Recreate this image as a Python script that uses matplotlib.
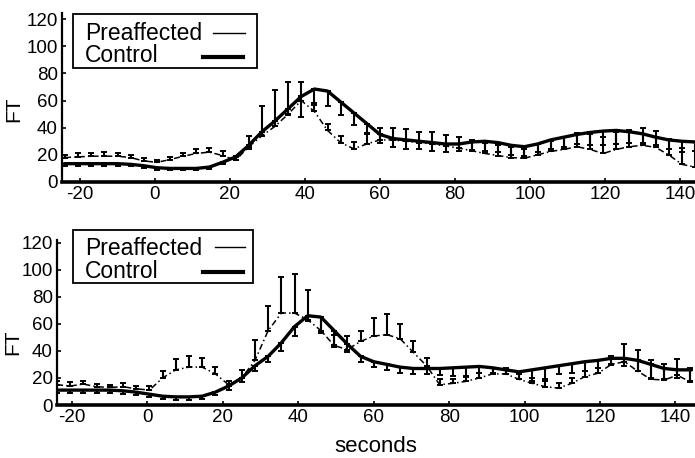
import matplotlib
matplotlib.use("Agg")
import matplotlib.pyplot as plt
from matplotlib.lines import Line2D
from matplotlib.patches import Rectangle
import numpy as np

plt.rcParams['font.family'] = ['Liberation Sans', 'DejaVu Sans']
plt.rcParams['axes.unicode_minus'] = False

# time points (seconds)
seconds = [-24, -20.5, -17, -13.5, -10, -6.5, -3, 0.5, 4, 7.5, 11, 14.5, 18, 21.5,
           25, 28.5, 32, 35.5, 39, 42.5, 46, 49.5, 53, 56.5, 60, 63.5, 67, 70.5,
           74, 77.5, 81, 84.5, 88, 91.5, 95, 98.5, 102, 105.5, 109, 112.5, 116,
           119.5, 123, 126.5, 130, 133.5, 137, 140.5, 144]

# ---- top panel ----
top_control = [13.5, 13.5, 13.5, 13.5, 13.5, 13, 12, 10.5, 10, 10, 10, 11, 14.5, 18.5,
               27, 37, 45, 54, 63, 68.5, 67, 59, 51, 43, 35, 32, 31, 30,
               29, 28, 28, 29.5, 30, 29, 27, 26, 28, 31, 33, 35, 36.5,
               37.5, 38, 37, 35.5, 33, 31, 30, 29.5]
top_control_err = [1.5, 1.5, 1.5, 1.5, 1.5, 1.5, 1.5, 1.5, 1.5, 1.5, 1.5, 1.5, 1.5, 2,
                   3, 3, 4, 5, 15, 12, 11, 10, 9, 8, 6, 6, 7, 6,
                   6, 6, 5, 6, 7, 7, 7, 7, 6, 7, 7, 7, 9,
                   10, 10, 8, 7, 6, 7, 8, 7]
top_pre = [18, 18.5, 19, 19, 19, 18, 15.5, 14.5, 16.5, 19, 21, 22, 19.5, 16,
           26, 34, 41, 50, 60, 52, 38, 29, 24.5, 28, 31, 31, 30, 29,
           28, 26.5, 25, 23, 21, 19.5, 18, 17.5, 20, 22.5, 24, 26, 24,
           21, 24, 26, 27, 25.5, 20, 13, 11]
top_pre_err = [2, 3, 2, 3, 2, 2, 2, 2, 2, 2, 3, 3, 3, 3,
               8, 22, 27, 24, 14, 6, 5, 5, 5, 8, 9, 9, 9, 8,
               9, 8, 8, 8, 8, 8, 8, 7, 8, 8, 9, 10, 11,
               12, 13, 12, 13, 12, 12, 12, 12]

# ---- bottom panel ----
bot_control = [11, 11, 11, 11, 11, 10.5, 9.5, 8, 6.5, 6, 6, 6.5, 9.5, 14,
               20, 29, 36, 46, 58, 66, 65, 55, 45, 36, 32, 30, 28, 27,
               27, 27, 27.5, 28, 28.5, 27.5, 26, 24.5, 26, 27.5, 29, 30.5, 32,
               33, 34.5, 34.5, 33, 30, 27, 26, 26]
bot_control_err = [2, 2, 2, 2, 2, 2, 2, 2, 2, 2, 2, 2, 2, 3,
                   3, 4, 4, 6, 7, 4, 12, 12, 6, 4, 4, 4, 4, 4,
                   4, 5, 6, 7, 5, 4, 3, 5, 8, 8, 6, 7, 7,
                   6, 5, 6, 8, 10, 8, 6, 8]
bot_pre = [15, 14, 15.5, 13.5, 13, 13.5, 12, 11, 20, 26, 28, 28, 23, 15,
           20, 33, 55, 68, 68, 63, 55, 44, 41, 47, 51, 52, 49, 39,
           29, 15, 16, 17.5, 20, 23, 23, 19, 16, 13.5, 12.5, 16, 21,
           23.5, 30, 32, 25, 19, 18.5, 22, 17]
bot_pre_err = [3, 3, 2, 2, 2, 3, 2, 3, 5, 8, 8, 7, 5, 3,
               6, 15, 18, 27, 29, 22, 10, 8, 10, 8, 13, 15, 11, 8,
               6, 4, 3, 4, 4, 4, 4, 4, 4, 4, 4, 4, 4,
               4, 6, 13, 16, 14, 12, 12, 10]

y_ticks = [0, 20, 40, 60, 80, 100, 120]
x_ticks = [-20, 0, 20, 40, 60, 80, 100, 120, 140]
legend_labels = ['Preaffected', 'Control']

W, H = 695, 458
fig = plt.figure(figsize=(W / 100, H / 100), dpi=100)
ax1 = fig.add_axes([62/W, 1-182/H, 633/W, 169/H])
ax2 = fig.add_axes([57/W, 1-405/H, 638/W, 165/H])


def fx(px):
    return px / W


def fy(py):
    return 1 - py / H


def draw(ax, ctrl, ctrl_err, pre, pre_err, xlim, ylim):
    t = np.array(seconds)
    z = np.zeros(len(t))
    ax.errorbar(t, pre, yerr=[z, pre_err], fmt='none', ecolor='black',
                elinewidth=1.5, capsize=2.5, capthick=1.4)
    ax.errorbar(t, ctrl, yerr=[ctrl_err, z], fmt='none', ecolor='black',
                elinewidth=1.5, capsize=2.5, capthick=1.4)
    ax.plot(t, pre, color='black', lw=1.1, ls=(0, (4, 2, 1, 2)))
    ax.plot(t, ctrl, color='black', lw=2.4, solid_joinstyle='round')
    ax.set_xlim(*xlim)
    ax.set_ylim(*ylim)
    ax.set_xticks(x_ticks)
    ax.set_yticks(y_ticks)
    ax.tick_params(direction='in', length=3, width=1.2, labelsize=13.5, pad=3)
    for s in ['top', 'right']:
        ax.spines[s].set_visible(False)
    ax.spines['left'].set_linewidth(1.6)
    ax.spines['bottom'].set_linewidth(2.6)
    ax.set_ylabel('FT', fontsize=15)


def legend_box(x0, y0, x1, y1, text_x, base1, base2, l1, l2):
    fig.add_artist(Rectangle((fx(x0), fy(y1)), fx(x1) - fx(x0), fy(y0) - fy(y1),
                             transform=fig.transFigure, fill=False,
                             edgecolor='black', lw=1.3))
    fig.text(fx(text_x), fy(base1), legend_labels[0], fontsize=16.5,
             va='baseline', ha='left')
    fig.text(fx(text_x), fy(base2), legend_labels[1], fontsize=16.5,
             va='baseline', ha='left')
    fig.add_artist(Line2D([fx(l1[0]), fx(l1[1])], [fy(l1[2])] * 2,
                          transform=fig.transFigure, color='black', lw=1.0))
    fig.add_artist(Line2D([fx(l2[0]), fx(l2[1])], [fy(l2[2])] * 2,
                          transform=fig.transFigure, color='black', lw=3.0))


draw(ax1, top_control, top_control_err, top_pre, top_pre_err, (-24.8, 144), (0, 124.5))
draw(ax2, bot_control, bot_control_err, bot_pre, bot_pre_err, (-24, 145.2), (0, 122))
ax1.yaxis.set_label_coords(-0.062, 0.43)
ax2.yaxis.set_label_coords(-0.055, 0.38)
ax2.set_xlabel('seconds', fontsize=16, labelpad=7)

legend_box(73, 14, 257, 68, 85, 40, 62, (213, 245, 33), (203, 243, 57))
legend_box(73, 230, 253, 283, 85, 255, 278, (215, 245, 247), (203, 243, 272))

fig.savefig('out.png', dpi=100)
